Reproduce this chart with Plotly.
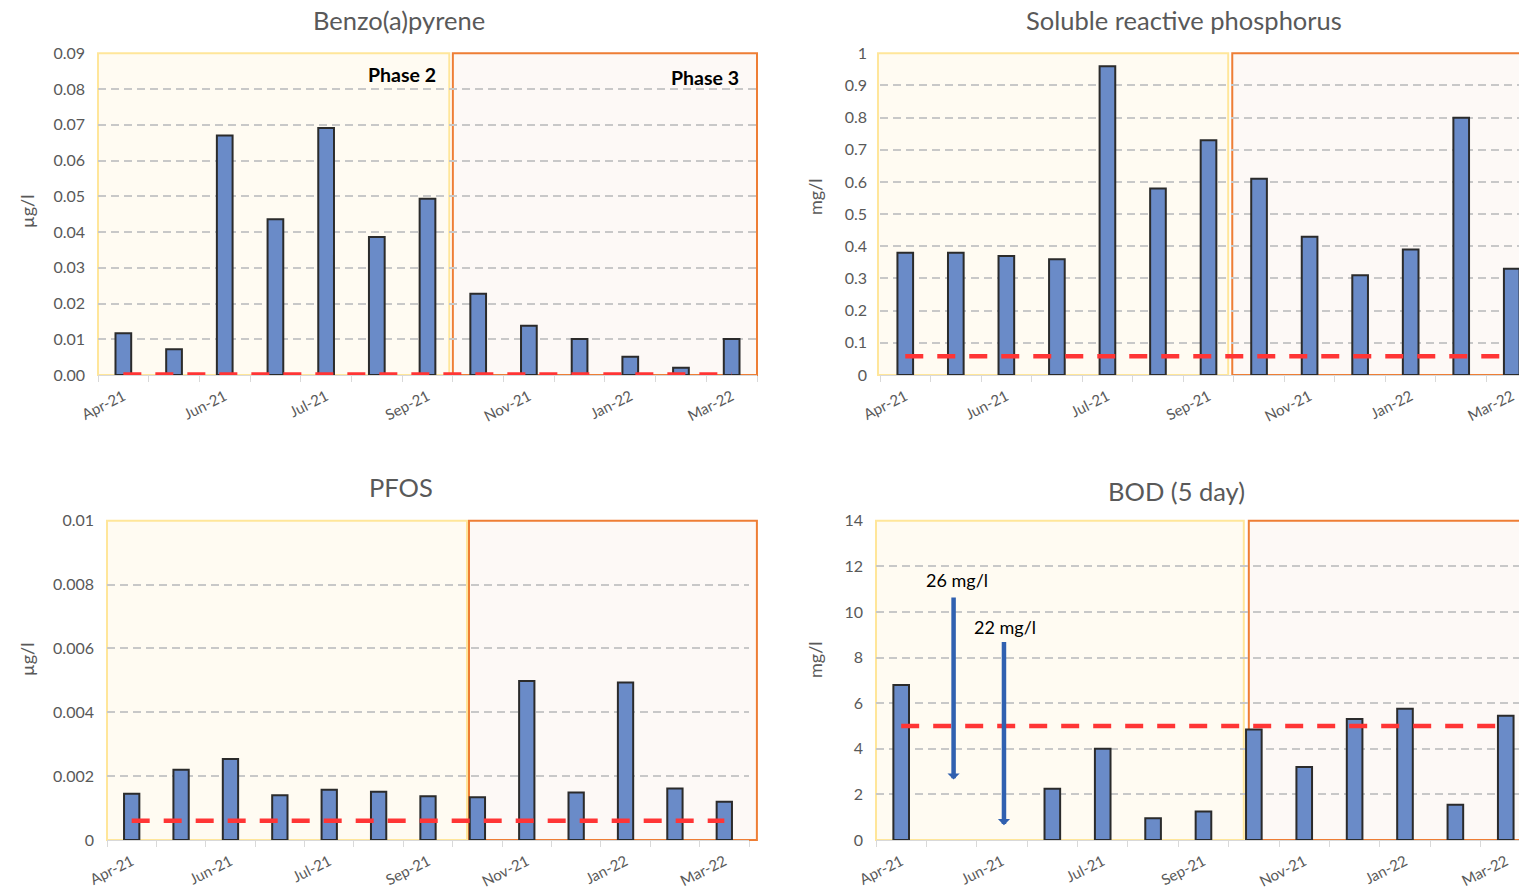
import plotly.graph_objects as go

# ---------------- data ----------------
months = ["Apr-21", "May-21", "Jun-21", "Jun-21", "Jul-21", "Aug-21", "Sep-21",
          "Oct-21", "Nov-21", "Dec-21", "Jan-22", "Feb-22", "Mar-22"]

benzo = [0.0117, 0.0072, 0.0670, 0.0436, 0.0691, 0.0386, 0.0493,
         0.0227, 0.0138, 0.0101, 0.0051, 0.0020, 0.0101]
benzo_limit = 0.00017

srp = [0.38, 0.38, 0.37, 0.36, 0.96, 0.58, 0.73,
       0.61, 0.43, 0.31, 0.39, 0.80, 0.33]
srp_limit = 0.058

pfos = [0.00145, 0.00220, 0.00254, 0.00140, 0.00157, 0.00151, 0.00137,
        0.00134, 0.00498, 0.00149, 0.00493, 0.00161, 0.00120]
pfos_limit = 0.0006

bod = [6.8, None, None, 2.25, 4.0, 0.95, 1.25,
       4.85, 3.2, 5.3, 5.75, 1.55, 5.45]
bod_limit = 5.0
bod_offscale_idx = [1, 2]
bod_offscale_text = ["26 mg/l", "22 mg/l"]

# ---------------- styling ----------------
W, H = 1519, 891
BAR_FILL = "#6A8BC8"
BAR_LINE = "#2B2B2B"
RED = "#FF3535"
GRID = "#C8C8C8"
TXT = "#595959"
P2_FILL = "#FFFBF2"
P2_LINE = "#FFE69A"
P3_FILL = "#FDF9F6"
P3_LINE = "#EE7E35"
FONT = "Lato"

x_idx = list(range(len(months)))
tickvals = x_idx[::2]
ticktext = months[::2]

def px_x(p):
    return p / W

def px_y(p):
    return 1 - p / H

charts = [
    dict(vals=benzo, lim=benzo_limit, xd=(98, 757), yd=(53.3, 375),
         xr=(-0.5, 12.5), yr=(0, 0.09), dt=0.01, fmt=".2f",
         boxes=((-0.5, 6.43), (6.5, 12.5)), title="Benzo(a)pyrene",
         tpos=(399, 20), unit="µg/l", upos=(27, 212)),
    dict(vals=srp, lim=srp_limit, xd=(880, 1519), yd=(53.3, 375),
         xr=(-0.5, -0.5 + (1519 - 880) / 50.54), yr=(0, 1), dt=0.1, fmt="",
         boxes=((-0.54, 6.39), (6.47, 13.5)), title="Soluble reactive phosphorus",
         tpos=(1184, 20), unit="mg/l", upos=(815, 197)),
    dict(vals=pfos, lim=pfos_limit, xd=(107, 749), yd=(520.7, 840),
         xr=(-0.5, 12.5), yr=(0, 0.01), dt=0.002, fmt="",
         boxes=((-0.5, 6.79), (6.83, 12.66)), title="PFOS",
         tpos=(401, 487), unit="µg/l", upos=(27, 660)),
    dict(vals=bod, lim=bod_limit, xd=(876, 1519), yd=(520.7, 840),
         xr=(-0.5, -0.5 + (1519 - 876) / 50.38), yr=(0, 14), dt=2, fmt="",
         boxes=((-0.5, 6.8), (6.9, 13.5)), title="BOD (5 day)",
         tpos=(1176, 491), unit="mg/l", upos=(815, 660)),
]

fig = go.Figure()
shapes = []
annotations = []

for i, c in enumerate(charts, start=1):
    xa = "x" if i == 1 else f"x{i}"
    ya = "y" if i == 1 else f"y{i}"
    xkey = "xaxis" if i == 1 else f"xaxis{i}"
    ykey = "yaxis" if i == 1 else f"yaxis{i}"

    fig.add_trace(go.Bar(
        x=x_idx, y=c["vals"], xaxis=xa, yaxis=ya, width=0.31,
        marker=dict(color=BAR_FILL, line=dict(color=BAR_LINE, width=2)),
        hoverinfo="skip"))
    fig.add_trace(go.Scatter(
        x=[x_idx[0], x_idx[-1]], y=[c["lim"], c["lim"]], xaxis=xa, yaxis=ya,
        mode="lines", line=dict(color=RED, width=4.5, dash="18px,14px"),
        hoverinfo="skip"))

    fig.update_layout({
        xkey: dict(domain=[px_x(c["xd"][0]), px_x(c["xd"][1])], anchor=ya,
                   range=list(c["xr"]), tickmode="array", tickvals=tickvals,
                   ticktext=ticktext, tickangle=-27, ticks="",
                   tickfont=dict(family=FONT, size=15, color=TXT),
                   showline=True, linecolor="#D9D9D9", linewidth=1,
                   showgrid=False, zeroline=False, fixedrange=True,
                   automargin=False, ticklabelstandoff=6,
                   minor=dict(tickmode="linear", tick0=-0.5, dtick=1,
                              ticks="outside", ticklen=6, tickcolor="#D9D9D9",
                              tickwidth=1, showgrid=False)),
        ykey: dict(domain=[px_y(c["yd"][1]), px_y(c["yd"][0])], anchor=xa,
                   range=list(c["yr"]), dtick=c["dt"], tick0=0,
                   tickformat=c["fmt"], showgrid=True, gridcolor=GRID,
                   gridwidth=1.5, griddash="8px,5px", zeroline=False,
                   showline=False, ticks="", ticklabelstandoff=12,
                   automargin=False,
                   tickfont=dict(family=FONT, size=16, color=TXT),
                   fixedrange=True),
    })

    r0, r1 = c["xr"]
    def dom(v):
        return (v - r0) / (r1 - r0)
    for (b0, b1), fill, line in zip(c["boxes"], (P2_FILL, P3_FILL), (P2_LINE, P3_LINE)):
        shapes.append(dict(type="rect", xref=f"{xa} domain", yref=f"{ya} domain",
                           x0=dom(b0), x1=dom(b1), y0=0, y1=1, layer="below",
                           fillcolor=fill, line=dict(color=line, width=2)))

    annotations.append(dict(text=c["title"], xref="paper", yref="paper",
                            x=px_x(c["tpos"][0]), y=px_y(c["tpos"][1]),
                            xanchor="center", yanchor="middle", showarrow=False,
                            font=dict(family=FONT, size=25.5, color=TXT)))
    annotations.append(dict(text=c["unit"], xref="paper", yref="paper",
                            x=px_x(c["upos"][0]), y=px_y(c["upos"][1]),
                            xanchor="center", yanchor="middle", showarrow=False,
                            textangle=-90,
                            font=dict(family=FONT, size=18, color=TXT)))

# Phase labels (Benzo chart)
annotations.append(dict(text="<b>Phase 2</b>", xref="x", yref="y", x=6.21, y=0.0842,
                        xanchor="right", yanchor="middle", showarrow=False,
                        font=dict(family=FONT, size=19.5, color="#000000")))
annotations.append(dict(text="<b>Phase 3</b>", xref="x", yref="y", x=12.18, y=0.0833,
                        xanchor="right", yanchor="middle", showarrow=False,
                        font=dict(family=FONT, size=19.5, color="#000000")))

# BOD off-scale arrows
arrow_spans = [(10.7, 2.65), (8.75, 0.65)]
label_pos = [(1.11, 11.4), (2.06, 9.35)]
for idx, txt, (top, bot), (lx, ly) in zip(bod_offscale_idx, bod_offscale_text, arrow_spans, label_pos):
    annotations.append(dict(text="", xref="x4", yref="y4", axref="x4", ayref="y4",
                            x=idx + 0.04, y=bot, ax=idx + 0.04, ay=top, showarrow=True,
                            arrowhead=1, arrowsize=0.45, arrowwidth=4.5,
                            arrowcolor="#3060B0"))
    annotations.append(dict(text=txt, xref="x4", yref="y4", x=lx, y=ly,
                            xanchor="center", yanchor="middle", showarrow=False,
                            font=dict(family=FONT, size=18, color="#000000")))

fig.update_layout(width=W, height=H,
                  margin=dict(l=0, r=0, t=0, b=0, pad=0, autoexpand=False),
                  paper_bgcolor="white", plot_bgcolor="rgba(0,0,0,0)",
                  showlegend=False, shapes=shapes, annotations=annotations,
                  font=dict(family=FONT, color=TXT))

fig.write_html("out.html", config={"displayModeBar": False},
               post_script="document.body.style.margin='0';")
